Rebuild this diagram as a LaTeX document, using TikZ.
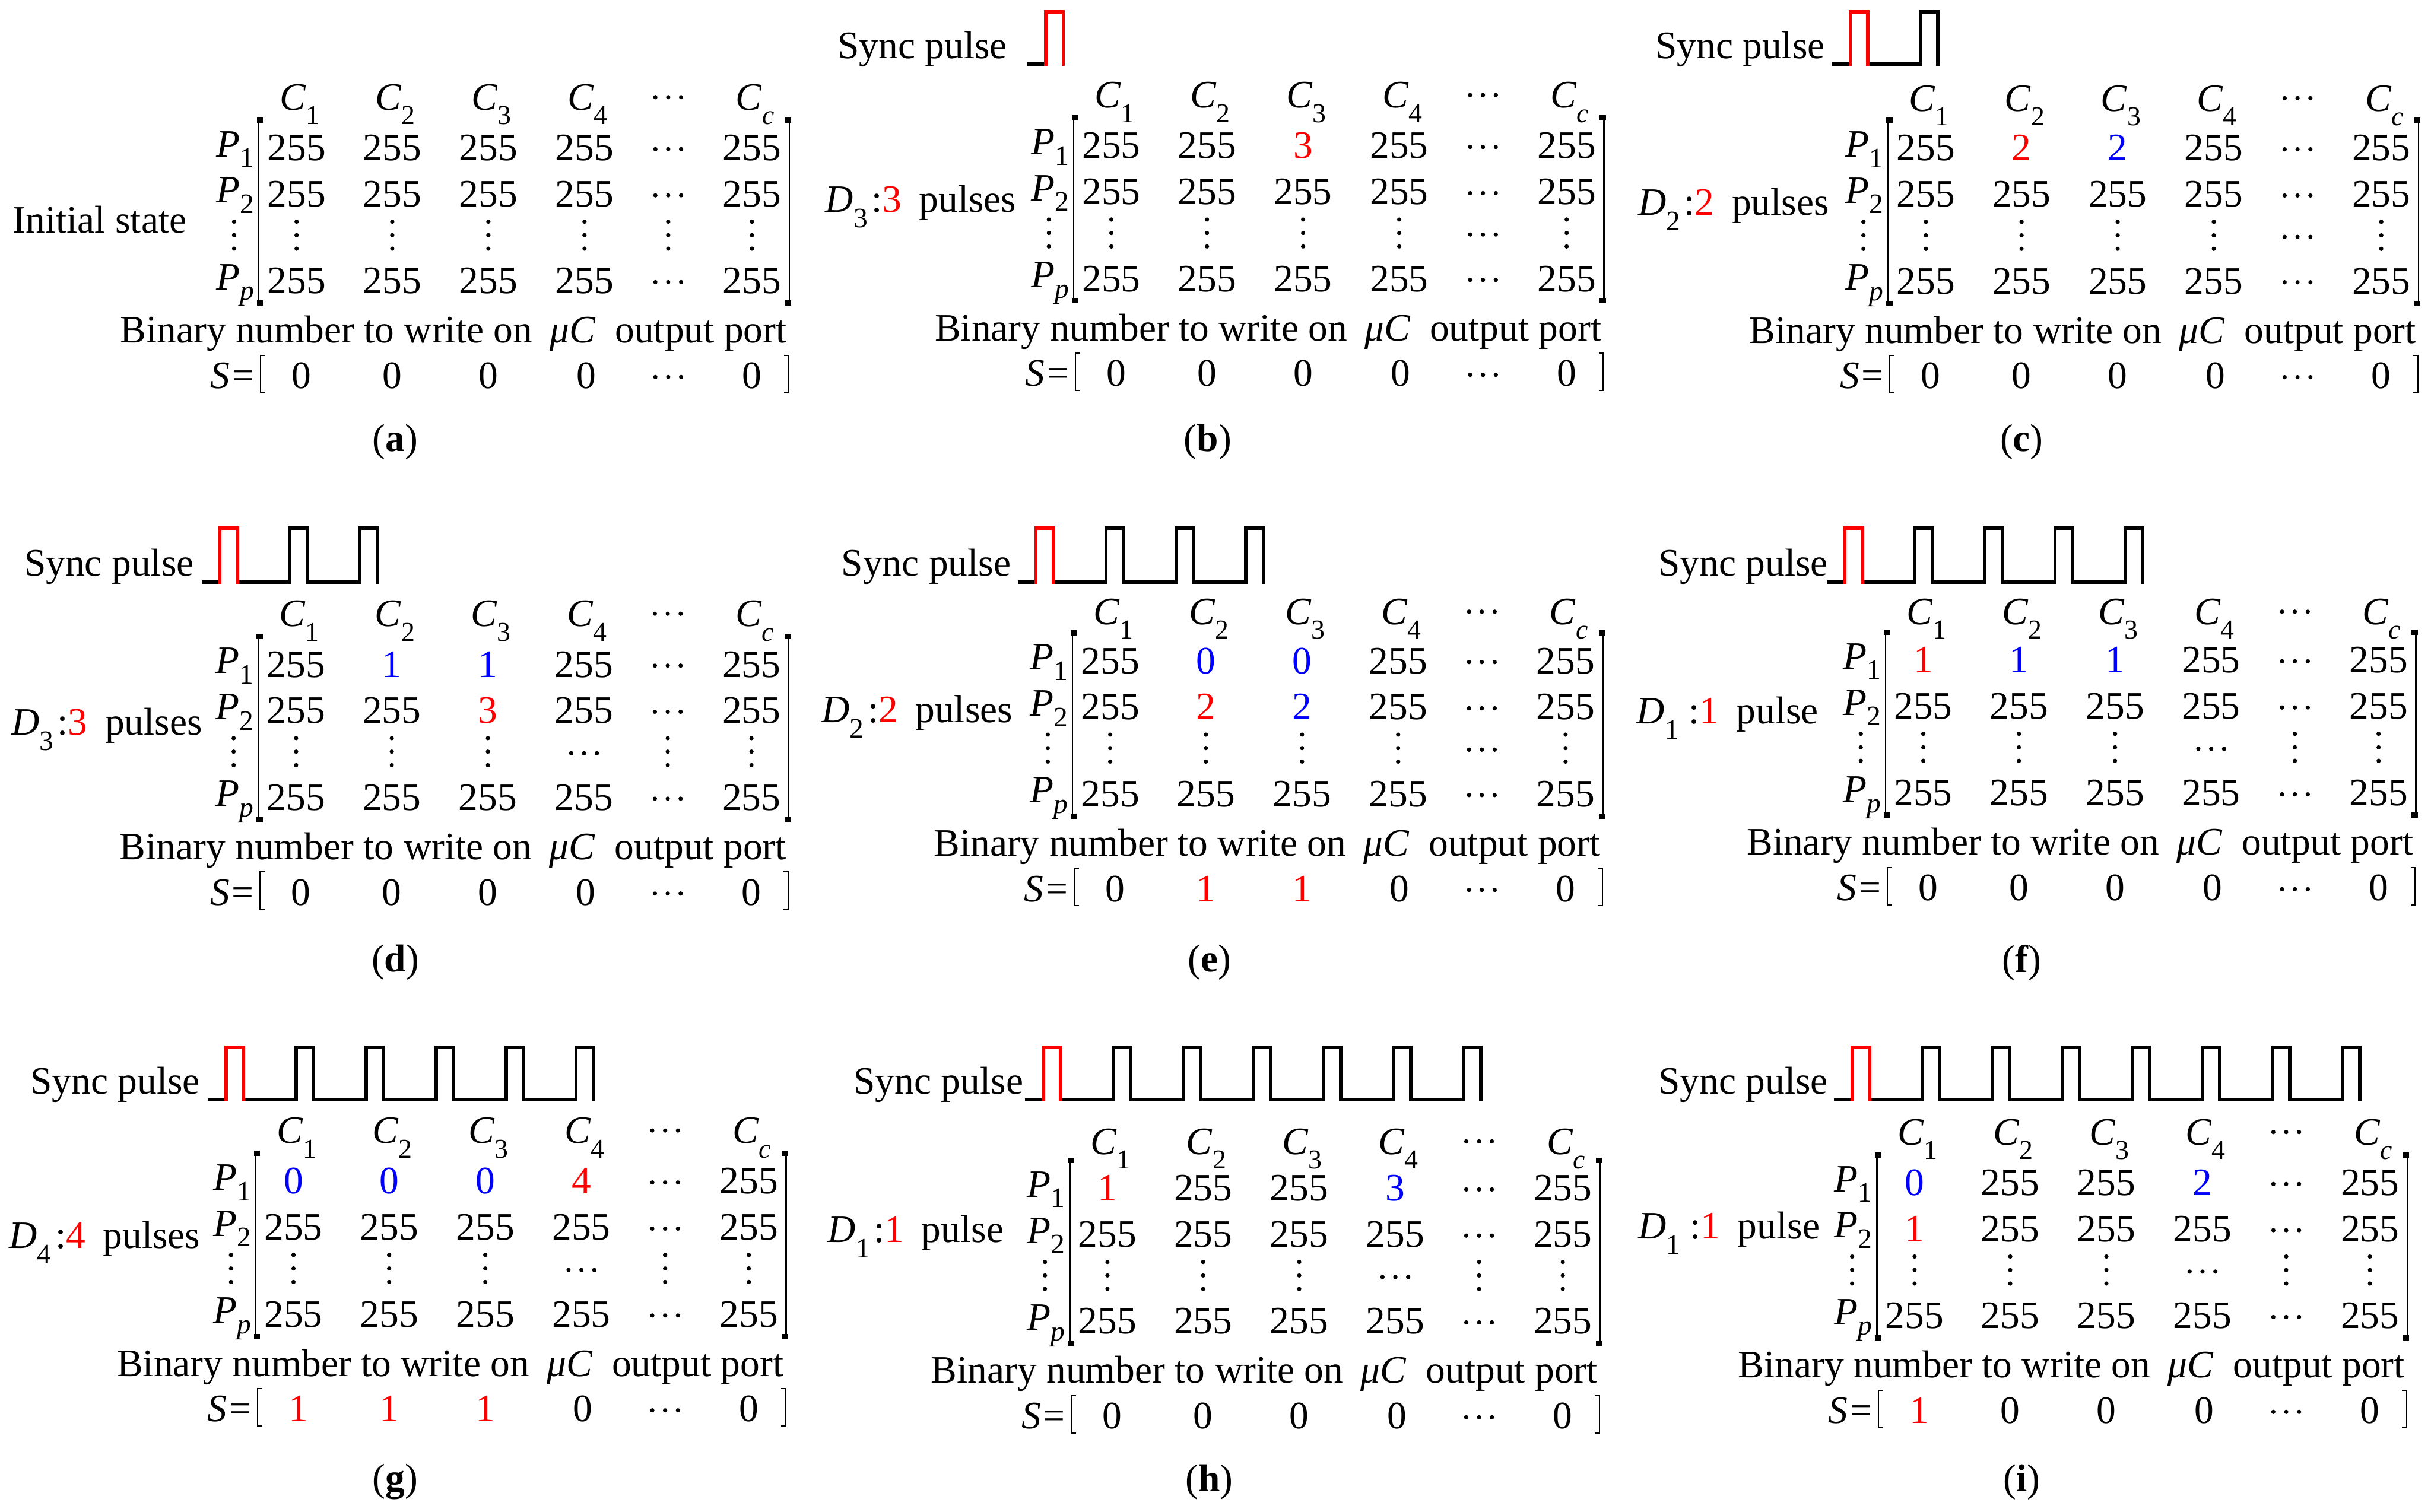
\documentclass[tikz,border=0pt]{standalone}
\usepackage{fontspec}
\setmainfont{Liberation Serif}
\tikzset{
  x=0.02805cm, y=-0.02805cm,
  txt/.style={inner sep=0pt, outer sep=0pt, font=\fontsize{20}{24}\selectfont},
  cell/.style={txt, anchor=base},
  hdr/.style={txt, anchor=base},
  plab/.style={txt, anchor=base east},
  dlab/.style={txt, anchor=base west},
  pulse/.style={line width=1.75pt, line cap=rect, line join=miter},
  brk/.style={line width=0.7pt},
  sbrk/.style={line width=0.6pt},
}
\newcommand\sbc[1]{\raisebox{-0.37em}{\fontsize{14}{14}\selectfont #1}}
\newcommand\sbp[1]{\raisebox{-0.27em}{\fontsize{14.5}{14}\selectfont #1}}
\newcommand\sbd[1]{\raisebox{-0.4em}{\fontsize{14.5}{14}\selectfont #1}}
\newcommand\R[1]{\textcolor{red}{#1}}
\newcommand\B[1]{\textcolor{blue}{#1}}
\def\dotsH{h}
\def\dotsV{v}
\newcommand\HD[3]{\coordinate (#1) at ({#2},{#3});\foreach \kk in {-8.3,0,8.3}{\fill ({#2+\kk},{#3}) circle[radius=1.1pt];}}
\newcommand\VD[3]{\coordinate (#1) at ({#2},{#3});\foreach \kk in {-8.7,0,8.7}{\fill ({#2},{#3+\kk}) circle[radius=1.1pt];}}
\newcommand\mrow[5]{%
 \foreach \cellv [count=\cellnum] in {#4}{%
  \pgfmathsetmacro\ox{{#5}[\cellnum-1]}%
  \ifx\cellv\dotsH \HD{#1-\cellnum}{#2+\ox}{#3+1}%
  \else\ifx\cellv\dotsV \VD{#1-\cellnum}{#2+\ox}{#3}%
  \else \node[cell] (#1-\cellnum) at ({#2+\ox},{#3+8.4}) {\cellv};%
  \fi\fi}}
\newcommand\mrowM[4]{\mrow{#1}{#2}{#3}{#4}{24.3,86,148,210,264,318}}
\newcommand\mrowS[4]{\mrow{#1}{#2}{#3}{#4}{27.5,86,148,211,264,318}}
\newcommand\panel[4]{%
 \foreach \ox/\kk [count=\ci] in {24.3/1,86/2,148/3,210/4}{\node[hdr] (#1-C\ci) at ({#2+\ox+2},{#3-#4+8.3}) {\textit{C}\sbc{\kk}};}%
 \HD{#1-Cdots}{#2+264}{#3-#4}%
 \node[hdr] (#1-Cc) at ({#2+320},{#3-#4+8.3}) {\textit{C}\sbc{\textit{c}}};%
 \node[plab] (#1-P1) at ({#2-3},{#3+5.9}) {\textit{P}\sbp{1}};%
 \node[plab] (#1-P2) at ({#2-3},{#3+29.8+5.9}) {\textit{P}\sbp{2}};%
 \VD{#1-Pdots}{#2-16}{#3+56.5}%
 \node[plab] (#1-Pp) at ({#2-3},{#3+85.8+5.9}) {\textit{P}\sbp{\textit{p}}};%
 \draw[brk] (#2,{#3-19.4}) -- (#2,{#3+102});
 \fill ({#2-1.3},{#3-19.4}) rectangle ({#2+2.7},{#3-16});
 \fill ({#2-1.3},{#3+102}) rectangle ({#2+2.7},{#3+98.6});
 \draw[brk] ({#2+342},{#3-19.4}) -- ({#2+342},{#3+102});
 \fill ({#2+339.3},{#3-19.4}) rectangle ({#2+343.3},{#3-16});
 \fill ({#2+339.3},{#3+102}) rectangle ({#2+343.3},{#3+98.6});
 \node[cell] (#1-bin) at ({#2+125.5},{#3+126}) {Binary number to write on\hspace{0.45em}\textit{μC}\hspace{0.5em}output port};
 \node[plab] (#1-S) at ({#2-3},{#3+155.4}) {\textit{S}\hspace{0.06em}=};
 \draw[sbrk] ({#2+4},{#3+134}) -- ({#2+1},{#3+134}) -- ({#2+1},{#3+158}) -- ({#2+4},{#3+158});
 \draw[sbrk] ({#2+338.6},{#3+134}) -- ({#2+341.6},{#3+134}) -- ({#2+341.6},{#3+158}) -- ({#2+338.6},{#3+158});
}
\newcommand\fullpanel[9]{\panel{#1}{#2}{#3}{#4}%
 \mrowM{#1-r1}{#2}{#3}{#5}%
 \mrowM{#1-r2}{#2}{#3+29.8}{#6}%
 \mrowM{#1-r3}{#2}{#3+56.5}{#7}%
 \mrowM{#1-rp}{#2}{#3+85.8}{#8}%
 \mrowS{#1-s}{#2}{#3+147}{#9}}
\newcommand\sync[6]{%
 \node[txt, anchor=base east] (#1-sync) at (#6,{#5-3.7}) {Sync pulse};
 \draw[pulse] ({#2-10.7},#5) -- (#2,#5);
 \ifnum#3>0
 \foreach \kk in {1,...,#3}{\draw[pulse] ({#2+11.2+(\kk-1)*45.15},#5) -- ({#2+\kk*45.15},#5) -- ({#2+\kk*45.15},#4) -- ({#2+\kk*45.15+11.2},#4) -- ({#2+\kk*45.15+11.2},#5);}
 \fi
 \draw[pulse, red] (#2,#5) -- (#2,#4) -- ({#2+11.2},#4) -- ({#2+11.2},#5);
}
\begin{document}
\begin{tikzpicture}
\fill[white] (0,0) rectangle (1568,975.4);
% (a)
\fullpanel{a}{167}{95.2}{32.5}{255,255,255,255,h,255}{255,255,255,255,h,255}{v,v,v,v,v,v}{255,255,255,255,h,255}{0,0,0,0,h,0}
\node[dlab] (a-init) at (8.3,150.3) {Initial state};
\node[txt] (a-lab) at (255,285) {(\textbf{a})};
% (b)
\fullpanel{b}{692.5}{93.8}{32.5}{255,255,\R{3},255,h,255}{255,255,255,255,h,255}{v,v,v,v,h,v}{255,255,255,255,h,255}{0,0,0,0,h,0}
\sync{b}{674.6}{0}{7.6}{41.4}{649.6}
\node[dlab] (b-D) at (532.4,{93.8+43.1}) {\textit{D}\sbd{3}\hspace{0.1em}:\R{3}\hspace{0.45em}pulses};
\node[txt] (b-lab) at (779,285) {(\textbf{b})};
% (c)
\fullpanel{c}{1217.9}{95.3}{32}{255,\R{2},\B{2},255,h,255}{255,255,255,255,h,255}{v,v,v,v,h,v}{255,255,255,255,h,255}{0,0,0,0,h,0}
\sync{c}{1193.4}{1}{7.6}{41.4}{1177}
\node[dlab] (c-D) at (1056.6,{95.3+43.4}) {\textit{D}\sbd{2}\hspace{0.1em}:\R{2}\hspace{0.45em}pulses};
\node[txt] (c-lab) at (1304,285) {(\textbf{c})};
% (d)
\fullpanel{d}{166.7}{428.4}{32.5}{255,\B{1},\B{1},255,h,255}{255,255,\R{3},255,h,255}{v,v,v,h,v,v}{255,255,255,255,h,255}{0,0,0,0,h,0}
\sync{d}{141.8}{2}{340.8}{375.4}{125}
\node[dlab] (d-D) at (7.3,{428.4+45.6}) {\textit{D}\sbd{3}\hspace{0.1em}:\R{3}\hspace{0.45em}pulses};
\node[txt] (d-lab) at (255,621) {(\textbf{d})};
% (e)
\fullpanel{e}{691.8}{426.1}{31.5}{255,\B{0},\B{0},255,h,255}{255,\R{2},\B{2},255,h,255}{v,v,v,v,h,v}{255,255,255,255,h,255}{0,\R{1},\R{1},0,h,0}
\sync{e}{668.2}{3}{340.8}{375.4}{652}
\node[dlab] (e-D) at (530,{426.1+39.8}) {\textit{D}\sbd{2}\hspace{0.1em}:\R{2}\hspace{0.45em}pulses};
\node[txt] (e-lab) at (780,621) {(\textbf{e})};
% (f)
\fullpanel{f}{1216.2}{425.6}{31}{\R{1},\B{1},\B{1},255,h,255}{255,255,255,255,h,255}{v,v,v,h,v,v}{255,255,255,255,h,255}{0,0,0,0,h,0}
\sync{f}{1190}{4}{340.8}{375.4}{1179}
\node[dlab] (f-D) at (1055.7,{425.6+41.3}) {\textit{D}\sbd{1}\hspace{0.25em}:\R{1}\hspace{0.45em}pulse};
\node[txt] (f-lab) at (1304,621) {(\textbf{f})};
% (g)
\fullpanel{g}{165}{761.8}{32.5}{\B{0},\B{0},\B{0},\R{4},h,255}{255,255,255,255,h,255}{v,v,v,h,v,v}{255,255,255,255,h,255}{\R{1},\R{1},\R{1},0,h,0}
\sync{g}{145.8}{5}{675.5}{709.5}{129}
\node[dlab] (g-D) at (6,{761.8+43.5}) {\textit{D}\sbd{4}\hspace{0.1em}:\R{4}\hspace{0.45em}pulses};
\node[txt] (g-lab) at (255,956) {(\textbf{g})};
% (h)
\fullpanel{h}{690}{766.3}{30}{\R{1},255,255,\B{3},h,255}{255,255,255,255,h,255}{v,v,v,h,v,v}{255,255,255,255,h,255}{0,0,0,0,h,0}
\sync{h}{672.9}{6}{675.5}{709.5}{660}
\node[dlab] (h-D) at (534,{766.3+35}) {\textit{D}\sbd{1}\hspace{0.1em}:\R{1}\hspace{0.45em}pulse};
\node[txt] (h-lab) at (780,956) {(\textbf{h})};
% (i)
\fullpanel{i}{1210.6}{762.8}{32.5}{\B{0},255,255,\B{2},h,255}{\R{1},255,255,255,h,255}{v,v,v,h,v,v}{255,255,255,255,h,255}{\R{1},0,0,0,h,0}
\sync{i}{1194.7}{7}{675.5}{709.5}{1179}
\node[dlab] (i-D) at (1056.6,{762.8+36.4}) {\textit{D}\sbd{1}\hspace{0.25em}:\R{1}\hspace{0.45em}pulse};
\node[txt] (i-lab) at (1304,956) {(\textbf{i})};
\end{tikzpicture}
\end{document}
